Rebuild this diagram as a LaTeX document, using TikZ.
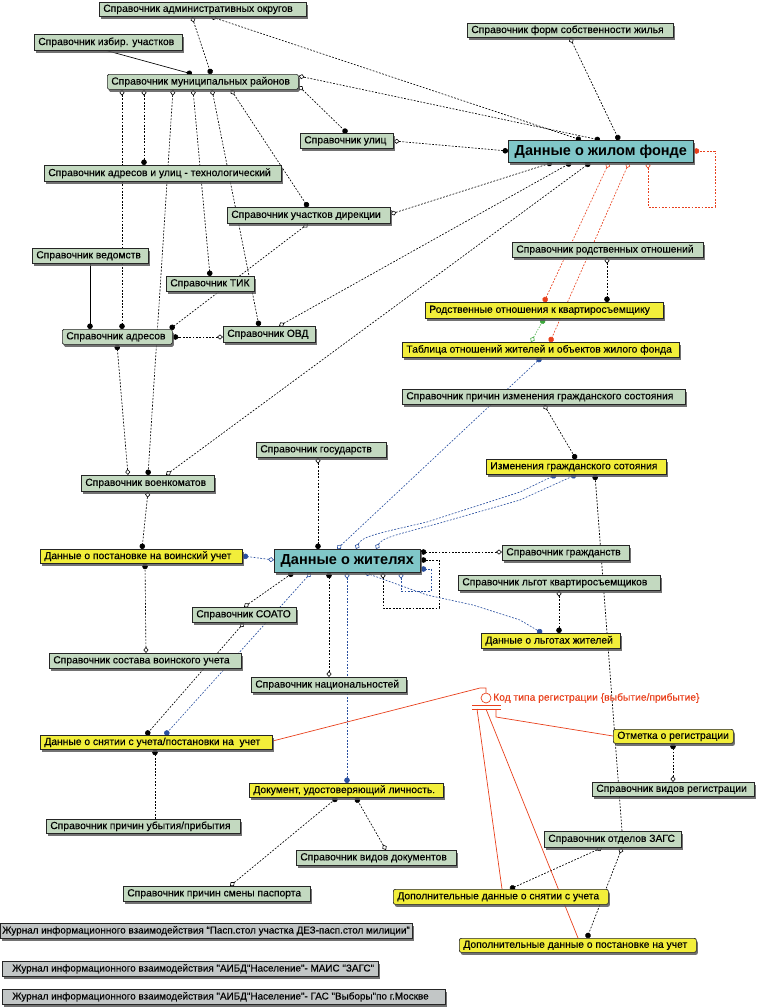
\documentclass[tikz,border=0pt]{standalone}
\usepackage{fontspec}
\setmainfont{Liberation Sans}
\newfontfamily\efont[BoldFont={Liberation Sans}, BoldFeatures={FakeBold=0.25}]{Liberation Sans}
\usetikzlibrary{arrows.meta,shadows}
\definecolor{gbox}{HTML}{C3D9C0}
\definecolor{ybox}{HTML}{F2EE3A}
\definecolor{tbox}{HTML}{80C6C8}
\definecolor{jbox}{HTML}{C2C6C6}
\definecolor{bl}{HTML}{2A50A0}
\definecolor{rl}{HTML}{E8401C}
\definecolor{gl}{HTML}{3CA83C}
\pgfdeclarelayer{bg}
\pgfsetlayers{bg,main}
\newcommand\ebox[8][l]{%
  \pgfmathsetmacro\ebt{#6-#4-8}\pgfmathsetmacro\ebh{#7-#5}%
  \node[#3, anchor=north west, minimum height=\ebh pt] (#2) at (#4,#5) {\makebox[\ebt pt][#1]{#8}};}
\tikzset{
  ent/.style={draw=black!85, line width=0.7pt, inner xsep=4pt, inner ysep=0pt,
    font=\efont\bfseries\fontsize{10.3}{11}\selectfont,
    drop shadow={shadow xshift=1.5pt, shadow yshift=-2.5pt, fill=black!65, opacity=0.85}},
  gref/.style={ent, fill=gbox},
  gref r/.style={ent, fill=gbox, rounded corners=1.5pt},
  ydat/.style={ent, fill=ybox},
  ydat r/.style={ent, fill=ybox, rounded corners=2pt},
  tmain/.style={ent, fill=tbox, font=\fontsize{14.5}{16}\selectfont\bfseries},
  jour/.style={ent, fill=jbox, font=\efont\bfseries\fontsize{9.9}{11}\selectfont},
  pdia/.tip={Diamond[fill=white, length=6pt, width=5pt, line width=0.6pt]},
  cdot/.tip={Circle[length=5.5pt]},
  rel/.style={draw=black, line width=0.65pt, dash pattern=on 1.8pt off 1.5pt},
  rels/.style={draw=black, line width=0.65pt},
  relr/.style={draw=rl, line width=0.65pt, dash pattern=on 1.8pt off 1.5pt},
  relb/.style={draw=bl, line width=0.65pt, dash pattern=on 1.8pt off 1.5pt},
  relg/.style={draw=gl, line width=0.65pt, dash pattern=on 1.2pt off 1.5pt},
  rline/.style={draw=rl, line width=0.7pt},
}
\begin{document}
\begin{tikzpicture}[x=1pt,y=-1pt]
\useasboundingbox (0,0) rectangle (757,1007);
% ---------- entities ----------
\ebox{adm}{gref}{99}{2}{306}{16}{Справочник административных округов}
\ebox{izb}{gref}{34}{34}{182}{50}{Справочник избир. участков}
\ebox{muni}{gref r}{107}{74}{298}{89}{Справочник муниципальных районов}
\ebox{ulic}{gref}{300}{133}{393}{148}{Справочник улиц}
\ebox[c]{zhf}{tmain}{508}{140}{693}{162}{Данные о жилом фонде}
\ebox{fso}{gref}{467}{23}{673}{37}{Справочник форм собственности жилья}
\ebox{adrt}{gref}{44}{165}{281}{181}{Справочник адресов и улиц - технологический}
\ebox{dir}{gref}{227}{207}{390}{223}{Справочник участков дирекции}
\ebox{ved}{gref}{32}{248}{148}{263}{Справочник ведомств}
\ebox{tik}{gref}{166}{276}{254}{291}{Справочник ТИК}
\ebox{adr}{gref r}{62}{329}{172}{344}{Справочник адресов}
\ebox{ovd}{gref}{223}{326}{315}{342}{Справочник ОВД}
\ebox{voen}{gref}{81}{475}{214}{491}{Справочник военкоматов}
\ebox{gos}{gref}{256}{442}{386}{457}{Справочник государств}
\ebox{rodsp}{gref}{512}{242}{703}{257}{Справочник родственных отношений}
\ebox{rod}{ydat}{425}{302}{663}{318}{Родственные отношения к квартиросъемщику}
\ebox{tabl}{ydat}{402}{342}{679}{357}{Таблица отношений жителей и объектов жилого фонда}
\ebox{prich}{gref}{402}{389}{685}{404}{Справочник причин изменения гражданского состояния}
\ebox{izm}{ydat}{486}{459}{666}{474}{Изменения гражданского сотояния}
\ebox[c]{zhit}{tmain}{274}{549}{420}{572}{Данные о жителях}
\ebox{post}{ydat}{40}{549}{242}{563}{Данные о постановке на воинский учет}
\ebox{grazh}{gref}{502}{545}{629}{560}{Справочник гражданств}
\ebox{lgot}{gref}{458}{575}{660}{590}{Справочник льгот квартиросъемщиков}
\ebox{soato}{gref}{192}{607}{296}{622}{Справочник СОАТО}
\ebox{lgzh}{ydat}{481}{633}{620}{648}{Данные о льготах жителей}
\ebox{sost}{gref}{49}{653}{241}{668}{Справочник состава воинского учета}
\ebox{nac}{gref}{251}{677}{406}{692}{Справочник национальностей}
\ebox{otm}{ydat r}{613}{729}{733}{743}{Отметка о регистрации}
\ebox{snyat}{ydat}{40}{735}{272}{749}{Данные о снятии с учета/постановки на\ \ учет}
\ebox{doc}{ydat}{249}{783}{443}{797}{Документ, удостоверяющий личность.}
\ebox{vidreg}{gref}{592}{782}{754}{796}{Справочник видов регистрации}
\ebox{ubyt}{gref}{46}{819}{240}{833}{Справочник причин убытия/прибытия}
\ebox{zags}{gref}{544}{831}{681}{847}{Справочник отделов ЗАГС}
\ebox{viddoc}{gref}{296}{850}{456}{865}{Справочник видов документов}
\ebox{pasp}{gref}{123}{886}{310}{901}{Справочник причин смены паспорта}
\ebox{dopsn}{ydat r}{393}{889}{608}{904}{Дополнительные данные о снятии с учета}
\ebox{dopp}{ydat r}{459}{938}{696}{952}{Дополнительные данные о постановке на учет}
\ebox{j1}{jour}{0}{923}{412}{938}{\hspace*{-2pt}Журнал информационного взаимодействия “Пасп.стол участка ДЕЗ-пасп.стол милиции”}
\ebox{j2}{jour}{2}{961}{378}{976}{\hspace*{6pt}Журнал информационного взаимодействия "АИБД"Население"- МАИС "ЗАГС"}
\ebox{j3}{jour}{2}{989}{445}{1004}{\hspace*{6pt}Журнал информационного взаимодействия "АИБД"Население"- ГАС "Выборы"по г.Москве}
% category symbol
\node[circle, draw=rl, line width=0.7pt, minimum size=10pt, inner sep=0pt] (catc) at (486,698) {};
\node[anchor=west, text=rl, inner sep=0pt, font=\efont\bfseries\fontsize{10.3}{11}\selectfont] (catl) at (493,698) {Код типа регистрации \{выбытие/прибытие\}};
\coordinate (cattop) at (486,688);
\coordinate (catbend) at (480,688);
% ---------- connectors ----------
\begin{pgfonlayer}{bg}
\draw[rel, pdia-cdot] (adm.south -| 192,0) -- (muni.north -| 211,0);
\draw[rel, pdia-cdot] (adm.south -| 211,0) -- (zhf.north -| 581,0);
\draw[rel, pdia-cdot] (muni.east |- 0,76) -- (zhf.north -| 600,0);
\draw[rel, pdia-cdot] (fso.south -| 570,0) -- (zhf.north -| 619,0);
\draw[rel, pdia-cdot] (muni.east |- 0,86) -- (ulic.north -| 347,0);
\draw[rel, pdia-cdot] (ulic.east |- 0,141) -- (zhf.west |- 0,151);
\draw[rels, -cdot] (izb.south -| 107,0) -- (muni.north -| 192,0);
\draw[rel, pdia-cdot] (muni.south -| 122,0) -- (adr.north -| 122,0);
\draw[rel, pdia-cdot] (muni.south -| 144,0) -- (adrt.north -| 144,0);
\draw[rel, pdia-cdot] (muni.south -| 173,0) -- (voen.north -| 148,0);
\draw[rel, pdia-cdot] (muni.south -| 193,0) -- (tik.north -| 210,0);
\draw[rel, pdia-cdot] (muni.south -| 212,0) -- (ovd.north -| 259,0);
\draw[rel, pdia-cdot] (muni.south -| 231,0) -- (dir.north -| 308,0);
\draw[rel, pdia-cdot] (dir.south -| 308,0) -- (adr.north -| 170,0);
\draw[rel, pdia-cdot] (dir.east |- 0,214) -- (zhf.south -| 552,0);
\draw[rel, pdia-cdot] (ovd.north -| 279,0) -- (zhf.south -| 571,0);
\draw[rel, pdia-cdot] (voen.north -| 166,0) -- (zhf.south -| 590,0);
\draw[rels, -cdot] (ved.south -| 90,0) -- (adr.north -| 90,0);
\draw[rel, pdia-cdot] (ovd.west |- 0,337) -- (adr.east |- 0,337);
\draw[rel, pdia-cdot] (voen.north -| 128,0) -- (adr.south -| 117,0);
\draw[rel, pdia-cdot] (voen.south -| 148,0) -- (post.north -| 142,0);
\draw[rel, pdia-cdot] (gos.south -| 318,0) -- (zhit.north -| 318,0);
\draw[rel, pdia-cdot] (sost.north -| 146,0) -- (post.south -| 145,0);
\draw[rel, pdia-cdot] (soato.north -| 244,0) -- (zhit.south -| 293,0);
\draw[rel, pdia-cdot] (soato.south -| 244,0) -- (snyat.north -| 146,0);
\draw[rel, pdia-cdot] (nac.north -| 329,0) -- (zhit.south -| 329,0);
\draw[rel, pdia-cdot] (grazh.west |- 0,552) -- (zhit.east |- 0,552);
\draw[rel, pdia-cdot] (zhit.south -| 383,0) -- (383,608) -- (439,608) -- (439,560) -- (zhit.east |- 0,560);
\draw[rel, pdia-cdot] (prich.south -| 544,0) -- (izm.north -| 576,0);
\draw[rel, -cdot] (zags.north -| 622,0) -- (izm.south -| 595,0);
\draw[rel, pdia-cdot] (lgot.south -| 559,0) -- (lgzh.north -| 559,0);
\draw[rel, pdia-cdot] (rodsp.south -| 607,0) -- (rod.north -| 607,0);
\draw[rel, pdia-cdot] (vidreg.north -| 673,0) -- (otm.south -| 673,0);
\draw[rel, pdia-cdot] (zags.south -| 602,0) -- (dopsn.north -| 510,0);
\draw[rel, pdia-cdot] (zags.south -| 622,0) -- (dopp.north -| 587,0);
\draw[rel, pdia-cdot] (pasp.north -| 230,0) -- (doc.south -| 337,0);
\draw[rel, pdia-cdot] (viddoc.north -| 386,0) -- (doc.south -| 356,0);
\draw[rel, -cdot] (ubyt.north -| 155,0) -- (snyat.south -| 155,0);
% red
\draw[relr, pdia-cdot] (zhf.south -| 609,0) -- (rod.north -| 544,0);
\draw[relr, pdia-cdot] (zhf.south -| 629,0) -- (tabl.north -| 550,0);
\draw[relr, pdia-cdot] (zhf.south -| 648,0) -- (648,207) -- (715,207) -- (715,151) -- (zhf.east |- 0,151);
% green
\draw[relg, pdia-cdot] (tabl.north -| 531,0) -- (rod.south -| 544,0);
% blue
\draw[relb, pdia-cdot] (zhit.west |- 0,560) -- (post.east |- 0,556);
\draw[relb, pdia-cdot] (zhit.south -| 311,0) -- (snyat.north -| 165,0);
\draw[relb, pdia-cdot] (zhit.south -| 347,0) -- (doc.north -| 347,0);
\draw[relb, pdia-cdot] (zhit.south -| 365,0) -- (427,595) -- (473,605) -- (520,620) -- (lgzh.north -| 542,0);
\draw[relb, pdia-cdot] (zhit.south -| 401,0) -- (401,591) -- (431,591) -- (431,569) -- (zhit.east |- 0,569);
\draw[relb, pdia-cdot] (zhit.north -| 337,0) -- (tabl.south -| 541,0);
\draw[relb, pdia-cdot] (zhit.north -| 356,0) .. controls (362,536) and (380,533) .. (427,522) -- (520,492) -- (izm.south -| 556,0);
\draw[relb, pdia-cdot] (zhit.north -| 376,0) .. controls (382,538) and (395,535) .. (440,523) -- (520,500) -- (izm.south -| 576,0);
% red category lines
\draw[rline] (catc.north) -- (cattop) -- (catbend) -- (snyat.east |- 0,741);
\draw[rline] (472,705) -- (501,705);
\draw[rline] (472,709) -- (501,709);
\draw[rline] (477,709) -- (dopsn.north -| 502,0);
\draw[rline] (486,709) -- (dopp.north -| 578,0);
\draw[rline] (496,709) -- (496,717) -- (otm.west |- 0,736);
\end{pgfonlayer}
\end{tikzpicture}
\end{document}
